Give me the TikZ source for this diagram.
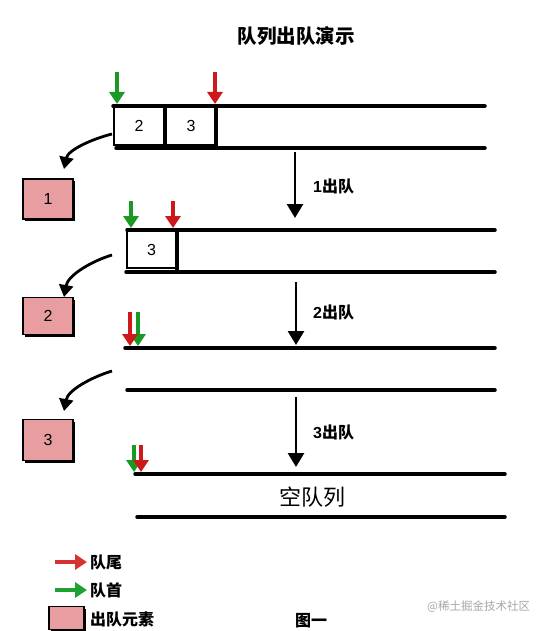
\documentclass[tikz,border=0pt]{standalone}
\usepackage{fontspec}
\setmainfont{Liberation Sans}
\newfontfamily\cjk{Noto Sans CJK SC}
\usetikzlibrary{arrows.meta,shadows}
\definecolor{qred}{RGB}{205,25,25}
\definecolor{qgreen}{RGB}{25,155,35}
\definecolor{lred}{RGB}{215,50,50}
\definecolor{lgreen}{RGB}{30,160,50}
\definecolor{elempink}{RGB}{232,158,160}
\tikzset{
  qline/.style={line width=3.5pt, line cap=round},
  cellbox/.style={draw, line width=1.7pt, minimum width=49pt, minimum height=38pt, inner sep=0pt, font=\fontsize{16}{16}\selectfont},
  elembox/.style={draw, fill=elempink, line width=1.7pt, minimum width=50pt, minimum height=40pt, inner sep=0pt, font=\fontsize{16}{16}\selectfont, drop shadow={shadow xshift=2.4pt, shadow yshift=-2.4pt, fill=black, opacity=1}},
  ptr/.style={line width=3.6pt, -{Triangle[length=12pt,width=15pt]}},
  flow/.style={line width=2.8pt, -{Triangle[length=14pt,width=16pt]}},
  move/.style={line width=2.8pt, -{Triangle[length=12pt,width=14pt]}},
  lbl/.style={anchor=west, inner sep=0pt, font=\bfseries\fontsize{16}{16}\selectfont},
}
\begin{document}
\begin{tikzpicture}[x=1pt,y=-1pt]
\useasboundingbox (0,0) rectangle (547,631);
\node[font=\cjk\bfseries\fontsize{19.5}{19.5}\selectfont] (title) at (296,36) {队列出队演示};

% queue 1
\coordinate (q1tl) at (113,106); \coordinate (q1tr) at (485,106);
\coordinate (q1bl) at (116,148); \coordinate (q1br) at (485,148);
\draw[qline] (q1tl) -- (q1tr);
\draw[qline] (q1bl) -- (q1br);
\node[cellbox, minimum width=50pt] (c12) at (139,126) {2};
\node[cellbox, minimum width=50pt] (c13) at (191,126) {3};
\coordinate (q1ea) at (216,106); \coordinate (q1eb) at (216,148);
\draw[qline] (q1ea) -- (q1eb);
\coordinate (g1s) at (117,72); \coordinate (g1e) at (117,104);
\coordinate (r1s) at (215,72); \coordinate (r1e) at (215,104);
\draw[ptr, qgreen] (g1s) -- (g1e);
\draw[ptr, qred] (r1s) -- (r1e);

% queue 2
\coordinate (q2tl) at (127,230); \coordinate (q2tr) at (495,230);
\coordinate (q2bl) at (126,272); \coordinate (q2br) at (495,272);
\draw[qline] (q2tl) -- (q2tr);
\draw[qline] (q2bl) -- (q2br);
\node[cellbox, minimum height=37pt] (c23) at (151.5,249.5) {3};
\coordinate (q2ea) at (177,230); \coordinate (q2eb) at (177,272);
\draw[qline] (q2ea) -- (q2eb);
\coordinate (g2s) at (131,201); \coordinate (g2e) at (131,228);
\coordinate (r2s) at (173,201); \coordinate (r2e) at (173,228);
\draw[ptr, qgreen] (g2s) -- (g2e);
\draw[ptr, qred] (r2s) -- (r2e);

% queue 3
\coordinate (q3tl) at (125,348); \coordinate (q3tr) at (495,348);
\coordinate (q3bl) at (127,390); \coordinate (q3br) at (495,390);
\draw[qline] (q3tl) -- (q3tr);
\draw[qline] (q3bl) -- (q3br);
\coordinate (g3s) at (138,312); \coordinate (g3e) at (138,346);
\coordinate (r3s) at (130,312); \coordinate (r3e) at (130,346);
\draw[ptr, qgreen] (g3s) -- (g3e);
\draw[ptr, qred] (r3s) -- (r3e);

% queue 4 (empty)
\coordinate (q4tl) at (135,474); \coordinate (q4tr) at (505,474);
\coordinate (q4bl) at (137,517); \coordinate (q4br) at (505,517);
\draw[qline] (q4tl) -- (q4tr);
\draw[qline] (q4bl) -- (q4br);
\coordinate (g4s) at (134,445); \coordinate (g4e) at (134,472);
\coordinate (r4s) at (141,445); \coordinate (r4e) at (141,472);
\draw[ptr, qgreen] (g4s) -- (g4e);
\draw[ptr, qred] (r4s) -- (r4e);
\node[font=\cjk\fontsize{22}{22}\selectfont] (empty) at (312,497) {空队列};

% flow arrows
\coordinate (f1s) at (295,152); \coordinate (f1e) at (295,218);
\coordinate (f2s) at (296,282); \coordinate (f2e) at (296,345);
\coordinate (f3s) at (296,397); \coordinate (f3e) at (296,467);
\draw[flow] (f1s) -- (f1e);
\draw[flow] (f2s) -- (f2e);
\draw[flow] (f3s) -- (f3e);
\node[lbl] (l1) at (313,186) {1{\cjk 出队}};
\node[lbl] (l2) at (313,312) {2{\cjk 出队}};
\node[lbl] (l3) at (313,432) {3{\cjk 出队}};

% dequeued elements
\node[elembox] (e1) at (48,199) {1};
\node[elembox, minimum height=37pt] (e2) at (48,316) {2};
\node[elembox, minimum height=41pt] (e3) at (48,440) {3};
\coordinate (m1s) at (112,134); \coordinate (m1e) at (64,169);
\coordinate (m2s) at (112,255); \coordinate (m2e) at (64,297);
\coordinate (m3s) at (112,371); \coordinate (m3e) at (64,411);
\draw[move] (m1s) .. controls (92,139) and (68,150) .. (m1e);
\draw[move] (m2s) .. controls (92,261) and (68,275) .. (m2e);
\draw[move] (m3s) .. controls (92,377) and (68,390) .. (m3e);

% legend
\coordinate (la1s) at (55,562); \coordinate (la1e) at (87,562);
\coordinate (la2s) at (55,590); \coordinate (la2e) at (87,590);
\draw[ptr, lred] (la1s) -- (la1e);
\draw[ptr, lgreen] (la2s) -- (la2e);
\node[lbl, font=\cjk\bfseries\fontsize{16}{16}\selectfont] (lt1) at (90,562) {队尾};
\node[lbl, font=\cjk\bfseries\fontsize{16}{16}\selectfont] (lt2) at (90,590) {队首};
\node[elembox, minimum width=35pt, minimum height=23pt] (lb) at (66.5,618) {};
\node[lbl, font=\cjk\bfseries\fontsize{16}{16}\selectfont] (lt3) at (90,619) {出队元素};

% footer
\node[anchor=west, inner sep=0pt, text=gray!70, font=\cjk\fontsize{11.5}{11.5}\selectfont] (wm) at (427,607) {@稀土掘金技术社区};
\node[font=\cjk\bfseries\fontsize{16}{16}\selectfont, inner sep=0pt] (fig) at (311,621) {图一};
\end{tikzpicture}
\end{document}
